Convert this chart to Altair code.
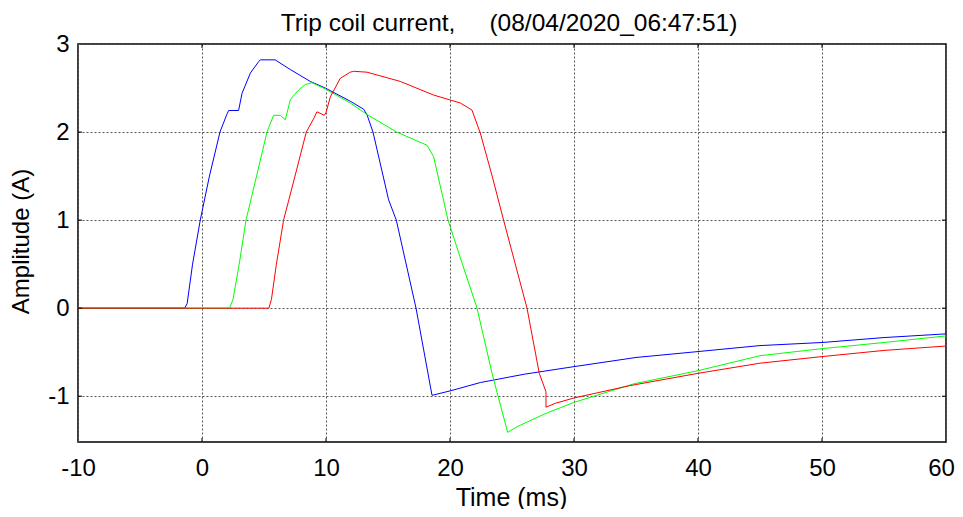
import altair as alt
import pandas as pd

# ---- data ----
blue_t = [-10, -1.4, -1.2, -0.76, -0.14, 0.6, 1.45, 2.0, 2.15, 2.95, 3.23, 3.9, 4.57, 4.7, 5.9,
          7.12, 8.73, 9.94, 11.96, 13.03, 13.3, 13.79, 15.05, 15.67, 17.26, 18.55, 20.0, 22.44,
          26, 30, 35, 40, 45, 50, 55, 60]
blue_a = [0, 0, 0.05, 0.5, 1.0, 1.5, 2.0, 2.2, 2.245, 2.245, 2.44, 2.67, 2.8, 2.82, 2.82,
          2.71, 2.575, 2.5, 2.35, 2.26, 2.2, 2.0, 1.23, 1.0, 0.0, -0.99, -0.94, -0.845,
          -0.75, -0.664, -0.56, -0.493, -0.425, -0.39, -0.334, -0.292]

green_t = [-10, 2.23, 2.5, 3.0, 3.55, 4.4, 5.24, 5.77, 6.31, 6.72, 7.13, 7.8, 8.33, 8.87,
           9.94, 11.96, 13.3, 15.7, 18.15, 18.68, 19.84, 21.0, 22.18, 23.39, 24.65, 25.5,
           27.82, 30, 34.8, 40, 45, 50, 55, 60]
green_a = [0, 0, 0.1, 0.5, 1.0, 1.5, 2.0, 2.19, 2.19, 2.14, 2.37, 2.48, 2.54, 2.56,
           2.49, 2.33, 2.2, 2.0, 1.85, 1.72, 1.0, 0.5, 0.0, -0.74, -1.41, -1.34,
           -1.19, -1.07, -0.86, -0.71, -0.54, -0.46, -0.39, -0.315]

red_t = [-10, 5.4, 5.6, 6.0, 6.58, 7.5, 8.41, 9.0, 9.27, 9.86, 10.0, 10.35, 11.15, 11.96,
         12.23, 13.3, 15.99, 18.68, 20.83, 21.77, 22.44, 23.4, 24.32, 26.21, 27.2, 27.74,
         27.74, 28.5, 30, 34.5, 40, 45, 50, 55, 60]
red_a = [0, 0, 0.1, 0.5, 1.0, 1.5, 2.0, 2.15, 2.23, 2.19, 2.22, 2.40, 2.61, 2.68,
         2.69, 2.68, 2.575, 2.42, 2.33, 2.25, 1.99, 1.5, 1.0, 0.0, -0.74, -0.95,
         -1.125, -1.08, -1.02, -0.88, -0.74, -0.625, -0.55, -0.48, -0.43]

x_ticks = [-10, 0, 10, 20, 30, 40, 50, 60]
y_ticks = [-1, 0, 1, 2, 3]
x_domain = [-10, 60]
y_domain = [-1.52, 3.0]

title_text = "Trip coil current,\u00a0\u00a0\u00a0\u00a0\u00a0(08/04/2020_06:47:51)"

rows = []
for name, ts, amps in [("blue", blue_t, blue_a), ("green", green_t, green_a), ("red", red_t, red_a)]:
    for i, (t, a) in enumerate(zip(ts, amps)):
        rows.append({"series": name, "t": t, "a": a, "i": i})
df = pd.DataFrame(rows)

W, H = 868, 398
FONT = "Liberation Sans"
MINUS = "datum.value < 0 ? '-' + abs(datum.value) : '' + datum.value"

xscale = alt.Scale(domain=x_domain, nice=False, zero=False)
yscale = alt.Scale(domain=y_domain, nice=False, zero=False)

lines = alt.Chart(df).mark_line(strokeWidth=1, interpolate="linear", clip=True).encode(
    x=alt.X("t:Q", scale=xscale,
            axis=alt.Axis(values=x_ticks, title="Time (ms)", grid=True, ticks=False, tickSize=0,
                          labelExpr=MINUS,
                          labelOffset={"condition": {"test": "datum.value === 60", "value": -5},
                                       "value": 0},
                          labelPadding=33, labelBaseline="alphabetic", labelFontSize=24,
                          labelFont=FONT, labelColor="#000", titleFont=FONT, titleFontSize=25,
                          titleFontWeight="normal", titleColor="#000", titleBaseline="alphabetic",
                          titleX=W / 2 - 1, titleY=63, domain=False, labelFlush=False)),
    y=alt.Y("a:Q", scale=yscale,
            axis=alt.Axis(values=y_ticks, title="Amplitude (A)", grid=True, ticks=False, tickSize=0,
                          labelExpr=MINUS,
                          labelPadding=9, labelFontSize=24, labelFont=FONT, labelColor="#000",
                          labelBaseline="middle", titleFont=FONT, titleFontSize=24,
                          titleFontWeight="normal", titleColor="#000", titleBaseline="alphabetic",
                          titleX=-50, titleY=H / 2 - 2, domain=False, labelFlush=False)),
    color=alt.Color("series:N",
                    scale=alt.Scale(domain=["blue", "green", "red"],
                                    range=["#0000ff", "#00ff00", "#ff0000"]),
                    legend=None),
    order=alt.Order("i:Q"),
    detail="series:N",
)

xt = pd.DataFrame({"t": x_ticks[1:-1]})
yt = pd.DataFrame({"a": y_ticks[:-1]})
tick_b = alt.Chart(xt).mark_rule(color="#000", strokeWidth=1).encode(
    x=alt.X("t:Q", scale=xscale), y=alt.value(H), y2=alt.value(H - 4))
tick_t = alt.Chart(xt).mark_rule(color="#000", strokeWidth=1).encode(
    x=alt.X("t:Q", scale=xscale), y=alt.value(0), y2=alt.value(4))
tick_l = alt.Chart(yt).mark_rule(color="#000", strokeWidth=1).encode(
    y=alt.Y("a:Q", scale=yscale), x=alt.value(0), x2=alt.value(4))
tick_r = alt.Chart(yt).mark_rule(color="#000", strokeWidth=1).encode(
    y=alt.Y("a:Q", scale=yscale), x=alt.value(W - 4), x2=alt.value(W))

title_mark = alt.Chart(pd.DataFrame({"label": [title_text]})).mark_text(
    font=FONT, fontSize=24.5, color="#000", align="center", baseline="alphabetic"
).encode(text="label:N", x=alt.value(W / 2 - 3), y=alt.value(-13.5))

chart = alt.layer(lines, tick_b, tick_t, tick_l, tick_r, title_mark).properties(
    width=W, height=H,
    padding={"left": 70, "top": 36, "right": 9, "bottom": 67},
    autosize=alt.AutoSizeParams(type="none"),
    background="white",
).configure_view(
    stroke="#000", strokeWidth=1.5
).configure_axis(
    gridColor="#555", gridDash=[2, 2], gridWidth=1, gridOpacity=1
)

chart.save("out.html", embed_options={"renderer": "svg", "actions": False})
